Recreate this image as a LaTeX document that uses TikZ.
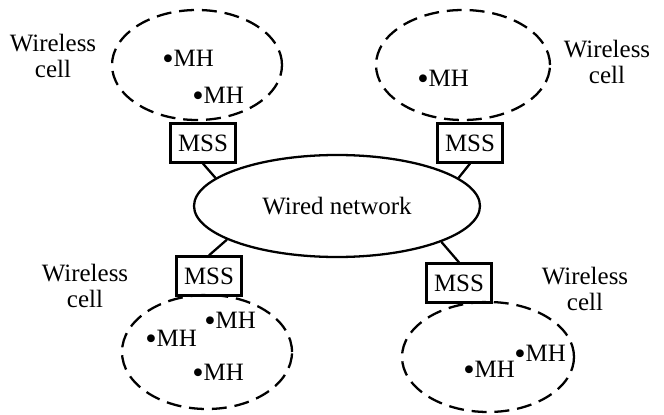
\documentclass[tikz,border=0pt]{standalone}
\usepackage{fontspec}
\setmainfont{Liberation Serif}
\usetikzlibrary{shapes.geometric}
\newcommand{\hostdot}{\raisebox{-0.1em}{\scalebox{1.3}{\textbullet}}}
\tikzset{
	network/.style={ellipse,draw,line width=1.3pt,inner sep=0pt,minimum width=5.72cm,minimum height=2.04cm},%
	cell/.style={ellipse,draw,line width=1.3pt,dash pattern=on 8.5pt off 4.5pt,inner sep=0pt,minimum width=3.44cm,minimum height=2.2cm},%
	station/.style={draw,line width=1.3pt,inner sep=0pt,minimum width=1.3cm,minimum height=0.78cm},%
	host/.style={anchor=west,inner sep=0pt},%
	cellname/.style={align=center,inner sep=0pt},%
	link/.style={line width=1.3pt},%
}

\begin{document}
\begin{tikzpicture}[font=\fontsize{14.2}{14.6}\selectfont]
	\useasboundingbox (0,0) rectangle (13.28,8.28);
	% Wired network {{{
	\node[network] (net) at (6.74,4.16) {Wired network};
	% }}}
	% Cells {{{
	\node[cell,minimum width=3.4cm] (cellnw) at (3.94,6.98) {};
	\node[cell,minimum width=3.48cm] (cellne) at (9.26,6.98) {};
	\node[cell,minimum width=3.4cm,minimum height=2.28cm] (cellsw) at (4.14,1.24) {};
	\node[cell] (cellse) at (9.76,1.14) {};
	\node[cellname] (namenw) at (1.06,7.16) {Wireless\\cell};
	\node[cellname] (namene) at (12.14,7.04) {Wireless\\cell};
	\node[cellname] (namesw) at (1.70,2.56) {Wireless\\cell};
	\node[cellname] (namese) at (11.70,2.50) {Wireless\\cell};
	% }}}
	% Mobile hosts {{{
	\node[host] (hostnwa) at (3.24,7.08) {\hostdot MH};
	\node[host] (hostnwb) at (3.84,6.34) {\hostdot MH};
	\node[host] (hostnea) at (8.34,6.68) {\hostdot MH};
	\node[host] (hostswa) at (4.08,1.84) {\hostdot MH};
	\node[host] (hostswb) at (2.90,1.48) {\hostdot MH};
	\node[host] (hostswc) at (3.84,0.80) {\hostdot MH};
	\node[host] (hostsea) at (9.26,0.86) {\hostdot MH};
	\node[host] (hostseb) at (10.28,1.18) {\hostdot MH};
	% }}}
	% Support stations {{{
	\node[station] (mssnw) at (4.06,5.42) {MSS};
	\node[station] (mssne) at (9.40,5.42) {MSS};
	\node[station] (msssw) at (4.18,2.76) {MSS};
	\node[station] (mssse) at (9.18,2.62) {MSS};
	\draw[link] (mssnw.south) -- (net.167);
	\draw[link] (mssne.south) -- (net.13);
	\draw[link] (msssw.north) -- (net.197);
	\draw[link] (mssse.north) -- (net.341);
	% }}}
\end{tikzpicture}
\end{document}
